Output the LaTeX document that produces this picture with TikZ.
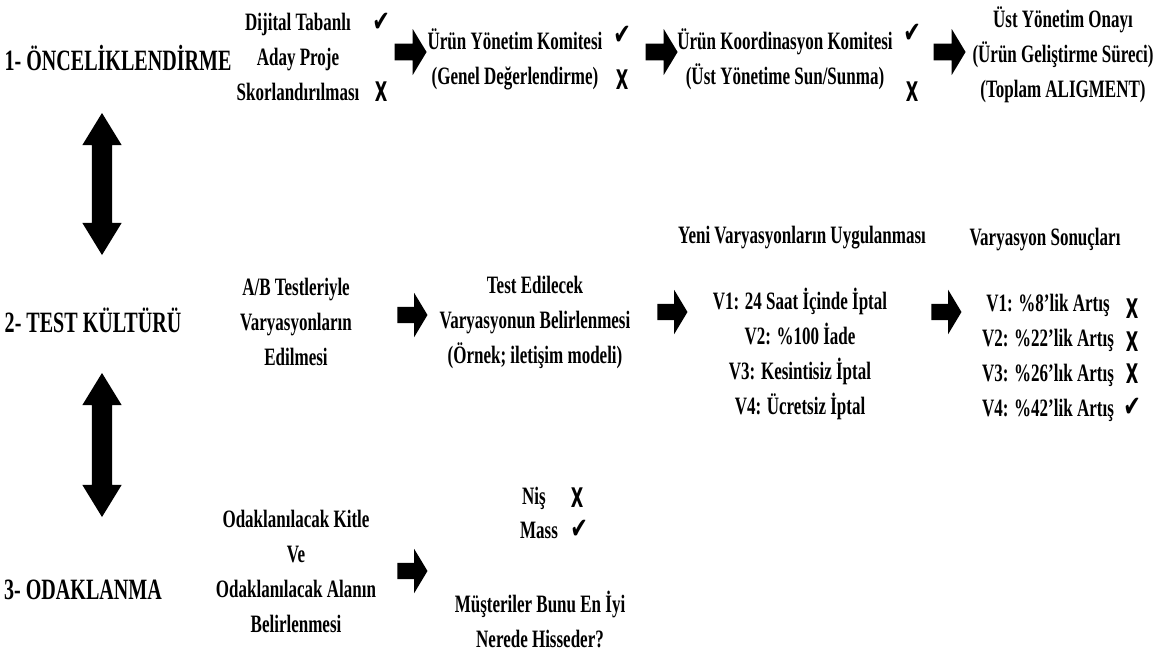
\documentclass[tikz,border=0pt]{standalone}
\usepackage{fontspec}
\setmainfont{Liberation Serif}[FakeStretch=0.68]
\newfontfamily\markfont{DejaVu Sans}[FakeStretch=0.6]
\newfontfamily\checkfont{DejaVu Sans}[FakeStretch=0.72]
\usetikzlibrary{shapes.arrows}

\newcommand{\yes}{{\checkfont\fontsize{29}{30}\selectfont\bfseries ✔}}
\newcommand{\no}{{\markfont\bfseries X}}

\tikzstyle{stage} = [font=\fontsize{29.5}{34}\selectfont\bfseries, inner sep=0pt]
\tikzstyle{txt} = [font=\fontsize{25}{35}\selectfont\bfseries, align=center, inner sep=0pt]
\tikzstyle{tick} = [font=\fontsize{27}{30}\selectfont, inner sep=0pt]
\tikzstyle{rarrow} = [single arrow, fill=black, inner xsep=0pt, inner ysep=8pt, minimum height=30pt, minimum width=44pt, single arrow head extend=14pt, single arrow tip angle=118]
\tikzstyle{varrow} = [double arrow, fill=black, inner xsep=0pt, inner ysep=10pt, rotate=90, minimum width=39pt, double arrow head extend=9.5pt, double arrow tip angle=63]

\begin{document}
\begin{tikzpicture}[x=1pt,y=-1pt]
\useasboundingbox (0,0) rectangle (1157,651);
\node[stage] (p1) at (118,58) {1- ÖNCELİKLENDİRME};
\node[txt] (dij) at (298,57) {Dijital Tabanlı\\Aday Proje\\Skorlandırılması};
\node[tick] (dijy) at (381,22) {\yes};
\node[tick] (dijn) at (381,92) {\no};
\node[rarrow, minimum height=32pt, minimum width=46pt] (a1) at (408,52) {};
\node[txt] (uyk) at (515,59) {Ürün Yönetim Komitesi\\(Genel Değerlendirme)};
\node[tick] (uyky) at (622,35) {\yes};
\node[tick] (uykn) at (622,80) {\no};
\node[rarrow, minimum height=32pt, minimum width=46pt] (a2) at (659,52) {};
\node[txt] (ukk) at (785,59) {Ürün Koordinasyon Komitesi\\(Üst Yönetime Sun/Sunma)};
\node[tick] (ukky) at (912,33) {\yes};
\node[tick] (ukkn) at (912,92) {\no};
\node[rarrow, minimum height=32pt, minimum width=46pt] (a3) at (947,52) {};
\node[txt] (uyo) at (1063,55) {Üst Yönetim Onayı\\(Ürün Geliştirme Süreci)\\(Toplam ALIGMENT)};

\node[varrow, minimum height=142pt] (v1) at (102,184) {};
\node[varrow, minimum height=144pt] (v2) at (102,445) {};

\node[stage] (p2) at (93,320) {2- TEST KÜLTÜRÜ};
\node[txt] (ab) at (296,322) {A/B Testleriyle\\Varyasyonların\\Edilmesi};
\node[rarrow] (a4) at (410,315) {};
\node[txt] (ted) at (535,322) {Test Edilecek\\Varyasyonun Belirlenmesi\\(Örnek; iletişim modeli)};
\node[txt] (yeni) at (802,238) {Yeni Varyasyonların Uygulanması};
\node[rarrow] (a5) at (670,312) {};
\node[txt] (vlist) at (800,354) {V1: 24 Saat İçinde İptal\\V2: \%100 İade\\V3: Kesintisiz İptal\\V4: Ücretsiz İptal};
\node[txt] (sonuc) at (1045,240) {Varyasyon Sonuçları};
\node[rarrow] (a6) at (944,312) {};
\node[txt] (rlist) at (1048,358) {V1: \%8’lik Artış\\V2: \%22’lik Artış\\V3: \%26’lık Artış\\V4: \%42’lik Artış};
\node[tick] (r1) at (1132,309) {\no};
\node[tick] (r2) at (1132,342) {\no};
\node[tick] (r3) at (1132,374) {\no};
\node[tick] (r4) at (1132,407) {\yes};

\node[stage] (p3) at (83,590) {3- ODAKLANMA};
\node[txt] (odak) at (296,571) {Odaklanılacak Kitle\\Ve\\Odaklanılacak Alanın\\Belirlenmesi};
\node[rarrow] (a7) at (410,571) {};
\node[txt] (nis) at (534,498) {Niş};
\node[tick] (nisn) at (577,498) {\no};
\node[txt] (mass) at (539,530) {Mass};
\node[tick] (massy) at (579,529) {\yes};
\node[txt] (must) at (540,619) {Müşteriler Bunu En İyi\\Nerede Hisseder?};
\end{tikzpicture}
\end{document}
